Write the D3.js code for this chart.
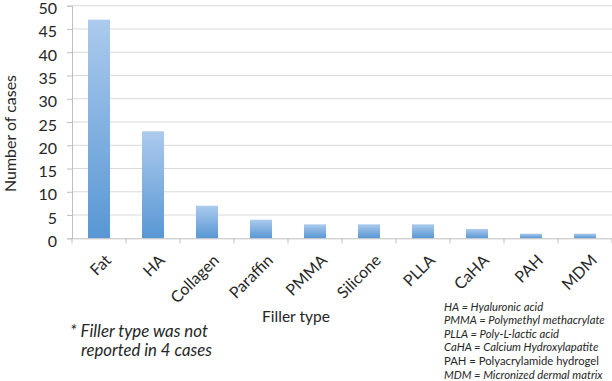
<!DOCTYPE html>
<html><head><meta charset="utf-8">
<script src="https://cdn.jsdelivr.net/npm/d3@7"></script>
<style>body{margin:0;background:#fff}svg{display:block}</style>
</head><body>
<script>
const categories = ["Fat","HA","Collagen","Paraffin","PMMA","Silicone","PLLA","CaHA","PAH","MDM"];
const cases = [47,23,7,4,3,3,3,2,1,1];
const yTicks = [0,5,10,15,20,25,30,35,40,45,50];
const abbreviations = [
  {t:"HA = Hyaluronic acid", italic:true},
  {t:"PMMA = Polymethyl methacrylate", italic:true},
  {t:"PLLA = Poly-L-lactic acid", italic:true},
  {t:"CaHA = Calcium Hydroxylapatite", italic:true},
  {t:"PAH = Polyacrylamide hydrogel", italic:false},
  {t:"MDM = Micronized dermal matrix", italic:true}
];
const W=612,H=381;
const font="Lato, 'Open Sans', sans-serif";
const ink="#262626";
const svg=d3.select("body").append("svg").attr("width",W).attr("height",H);
const pL=72,pR=612,pT=5.7,pB=238.3;
const x=d3.scaleBand().domain(categories).range([pL,pR]);
const y=d3.scaleLinear().domain([0,50]).range([pB,pT]);
function fit(sel,w){const n=sel.node();const cur=n.getComputedTextLength();const fs=parseFloat(sel.attr("font-size"));if(cur>0)sel.attr("font-size",fs*w/cur);return sel;}
const defs=svg.append("defs");
const g=defs.append("linearGradient").attr("id","bg").attr("x1",0).attr("y1",0).attr("x2",0).attr("y2",1);
g.append("stop").attr("offset","0%").attr("stop-color","#accaed");
g.append("stop").attr("offset","100%").attr("stop-color","#5897d4");
// gridlines
svg.append("g").selectAll("line").data(yTicks.filter(d=>d>0)).join("line")
  .attr("x1",pL).attr("x2",pR).attr("y1",d=>y(d)).attr("y2",d=>y(d))
  .attr("stroke","#d9d9d9").attr("stroke-width",1);
// y axis
const ya=svg.append("g").attr("transform",`translate(${pL},0)`).call(d3.axisLeft(y).tickValues(yTicks).tickSize(5).tickPadding(10));
ya.select(".domain").attr("stroke","#bfbfbf");
ya.selectAll(".tick line").attr("stroke","#bfbfbf");
ya.selectAll("text").attr("font-family",font).attr("font-size",16).attr("fill",ink).attr("dy","0.5em");
// bars
const bw=22;
svg.append("g").selectAll("rect").data(categories).join("rect")
  .attr("x",(d)=>x(d)+x.bandwidth()/2-bw/2)
  .attr("width",bw)
  .attr("y",(d,i)=>y(cases[i]))
  .attr("height",(d,i)=>pB-y(cases[i]))
  .attr("fill","url(#bg)");
// x axis
const xa=svg.append("g").attr("transform",`translate(0,${pB})`).call(d3.axisBottom(x).tickSize(0).tickFormat(""));
xa.select(".domain").attr("stroke","#bfbfbf");
svg.append("g").selectAll("line").data(d3.range(categories.length+1)).join("line")
  .attr("x1",i=>pL+i*x.step()).attr("x2",i=>pL+i*x.step())
  .attr("y1",pB).attr("y2",pB+5).attr("stroke","#bfbfbf");
svg.append("g").selectAll("text").data(categories).join("text")
  .attr("transform",d=>`translate(${x(d)+x.bandwidth()/2+5},${pB+15}) rotate(-45)`)
  .attr("text-anchor","end").attr("dy","0.71em")
  .attr("font-family",font).attr("font-size",16).attr("fill",ink).text(d=>d);
// titles
fit(svg.append("text").attr("transform",`translate(10,${133.5}) rotate(-90)`)
  .attr("text-anchor","middle").attr("dy","0.35em").attr("font-family",font).attr("font-size",17).attr("fill",ink).text("Number of cases"),117);
fit(svg.append("text").attr("x",296).attr("y",322).attr("text-anchor","middle")
  .attr("font-family",font).attr("font-size",16).attr("fill",ink).text("Filler type"),68);
fit(svg.append("text").attr("x",70).attr("y",337).attr("font-family",font).attr("font-style","italic").attr("font-size",16).attr("fill",ink).text("* Filler type was not"),138);
fit(svg.append("text").attr("x",81).attr("y",356).attr("font-family",font).attr("font-style","italic").attr("font-size",16).attr("fill",ink).text("reported in 4 cases"),131);
const leg=svg.append("g").selectAll("text").data(abbreviations).join("text")
  .attr("x",444).attr("y",(d,i)=>310.5+i*13.6)
  .attr("font-family",font).attr("font-size",12).attr("fill",ink)
  .attr("font-style",d=>d.italic?"italic":"normal").text(d=>d.t);
const lw=leg.filter((d,i)=>i===1).node().getComputedTextLength();
leg.attr("font-size",12*161/lw);
</script>
</body></html>
